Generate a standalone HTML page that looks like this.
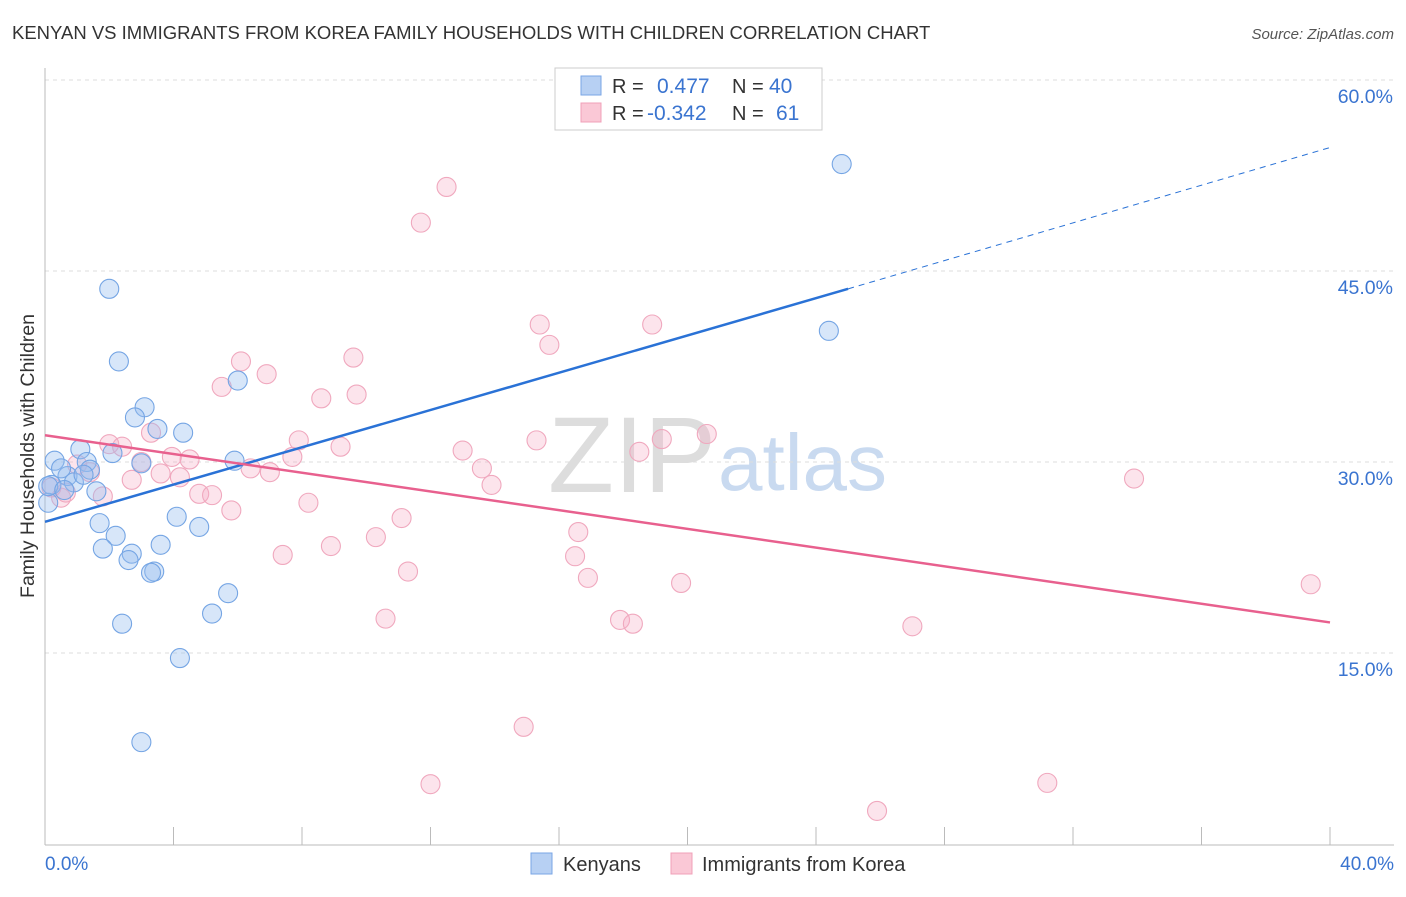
<!DOCTYPE html>
<html><head><meta charset="utf-8"><style>
body{margin:0;background:#fff;font-family:"Liberation Sans",sans-serif}
svg text{font-family:"Liberation Sans",sans-serif}
</style></head><body>
<svg id="chart" width="1406" height="892" xmlns="http://www.w3.org/2000/svg">
<text x="12" y="39" font-size="18.5" fill="#333">KENYAN VS IMMIGRANTS FROM KOREA FAMILY HOUSEHOLDS WITH CHILDREN CORRELATION CHART</text>
<text x="1394" y="39" font-size="15" fill="#555" text-anchor="end" font-style="italic">Source: ZipAtlas.com</text>
<text x="716" y="492" font-size="108" fill="#ddd" text-anchor="end" font-family="Liberation Serif">ZIP</text>
<text x="718" y="490" font-size="80" fill="#c9daf0">atlas</text>
<g id="grid"></g>
<line x1="45" y1="68" x2="45" y2="845" stroke="#bbb"/>
<line x1="45" y1="845" x2="1394" y2="845" stroke="#bbb"/>
<g id="ticks"></g>
<text x="34" y="456" font-size="19.5" fill="#333" text-anchor="middle" transform="rotate(-90 34 456)">Family Households with Children</text>
<text x="45" y="870" font-size="19" fill="#3a74d0">0.0%</text>
<text x="1394" y="870" font-size="19" fill="#3a74d0" text-anchor="end">40.0%</text>
<g id="pts"></g>
<g id="lines"></g>
<g>
<rect x="555" y="68" width="267" height="62" fill="#fff" stroke="#ccc"/>
<rect x="581" y="76" width="20" height="19" fill="#b7d0f3" stroke="#7aa6e6"/>
<rect x="581" y="103" width="20" height="19" fill="#fac8d6" stroke="#f0a0b8"/>
<text x="612" y="93" font-size="20" fill="#333">R =</text>
<text x="657" y="93" font-size="21" fill="#3a74d0">0.477</text>
<text x="732" y="93" font-size="20" fill="#333">N =</text>
<text x="769" y="93" font-size="21" fill="#3a74d0">40</text>
<text x="612" y="120" font-size="20" fill="#333">R =</text>
<text x="647" y="120" font-size="21" fill="#3a74d0">-0.342</text>
<text x="732" y="120" font-size="20" fill="#333">N =</text>
<text x="776" y="120" font-size="21" fill="#3a74d0">61</text>
</g>
<g>
<rect x="531" y="853" width="21" height="21" fill="#b7d0f3" stroke="#7aa6e6"/>
<text x="563" y="871" font-size="20" fill="#333">Kenyans</text>
<rect x="671" y="853" width="21" height="21" fill="#fac8d6" stroke="#f0a0b8"/>
<text x="702" y="871" font-size="20" fill="#333">Immigrants from Korea</text>
</g>
</svg>
<script>
const yTicks=[15,30,45,60];
const xTicks=[0,4,8,12,16,20,24,28,32,36,40];
const kenX=[24.8,24.4,2.0,2.3,6.0,3.1,2.8,3.5,4.3,1.1,2.1,0.3,1.3,5.9,3.0,1.4,0.7,0.9,1.6,0.2,0.1,1.7,4.1,4.8,2.2,3.6,1.8,2.7,2.6,3.4,3.3,5.7,5.2,2.4,4.2,3.0,0.5,0.1,0.6,1.2];
const kenY=[53.4,40.3,43.6,37.9,36.4,34.3,33.5,32.6,32.3,31.0,30.7,30.1,30.0,30.1,29.9,29.4,28.9,28.4,27.7,28.2,26.8,25.2,25.7,24.9,24.2,23.5,23.2,22.8,22.3,21.4,21.3,19.7,18.1,17.3,14.6,8.0,29.5,28.1,27.8,29.0];
const korX=[12.5,11.7,15.4,18.9,15.7,6.1,9.6,6.9,5.5,8.6,9.7,3.3,2.0,2.4,7.9,9.2,13.0,15.3,19.2,20.6,18.5,3.95,4.5,7.7,1.0,3.0,3.6,4.2,6.4,7.0,13.6,13.9,33.9,2.7,1.8,4.8,5.2,8.2,5.8,11.1,10.3,8.9,16.6,7.4,16.5,11.3,16.9,19.8,39.4,10.6,17.9,18.3,27.0,14.9,12.0,31.2,25.9,0.5,0.2,1.4,0.65];
const korY=[51.6,48.8,40.8,40.8,39.2,37.9,38.2,36.9,35.9,35.0,35.3,32.3,31.4,31.2,31.7,31.2,30.9,31.7,31.8,32.2,30.8,30.4,30.2,30.4,29.8,30.0,29.1,28.8,29.5,29.2,29.5,28.2,28.7,28.6,27.3,27.5,27.4,26.8,26.2,25.6,24.1,23.4,24.5,22.7,22.6,21.4,20.9,20.5,20.4,17.7,17.6,17.3,17.1,9.2,4.7,4.8,2.6,27.2,28.0,29.2,27.6];
const kenLine=[[0,25.3],[25,43.6],[40,54.7]];
const korLine=[[0,32.1],[40,17.4]];
const NS='http://www.w3.org/2000/svg';
const sx=v=>45+v*32.125, sy=v=>844-v*12.733;
function mk(t,a,p){const e=document.createElementNS(NS,t);for(const k in a)e.setAttribute(k,a[k]);p.appendChild(e);return e;}
const grid=document.getElementById('grid'),ticks=document.getElementById('ticks'),pts=document.getElementById('pts'),lines=document.getElementById('lines');
yTicks.forEach(v=>{
const l=mk('line',{x1:45,x2:1394,y1:sy(v),y2:sy(v),stroke:'#ddd','stroke-dasharray':'4 4'},grid);


const t=mk('text',{x:1393,y:sy(v)+23,'font-size':19.5,fill:'#3a74d0','text-anchor':'end'},ticks);
t.textContent=v.toFixed(1)+'%';


});
xTicks.forEach(v=>{
const l=mk('line',{x1:sx(v),x2:sx(v),y1:827,y2:845,stroke:'#bbb'},ticks);


});
korX.forEach((x,i)=>{
const c=mk('circle',{cx:sx(x),cy:sy(korY[i]),r:9.5,fill:'rgba(246,170,195,0.32)',stroke:'#f0a8be','stroke-width':1.1},pts);


});
kenX.forEach((x,i)=>{
const c=mk('circle',{cx:sx(x),cy:sy(kenY[i]),r:9.5,fill:'rgba(150,190,240,0.38)',stroke:'#75a5e4','stroke-width':1.1},pts);


});
let l1=mk('line',{x1:sx(kenLine[0][0]),y1:sy(kenLine[0][1]),x2:sx(kenLine[1][0]),y2:sy(kenLine[1][1]),stroke:'#2a72d6','stroke-width':2.5},lines);


let l2=mk('line',{x1:sx(kenLine[1][0]),y1:sy(kenLine[1][1]),x2:sx(kenLine[2][0]),y2:sy(kenLine[2][1]),stroke:'#2a72d6','stroke-width':1,'stroke-dasharray':'6 5'},lines);


let l3=mk('line',{x1:sx(korLine[0][0]),y1:sy(korLine[0][1]),x2:sx(korLine[1][0]),y2:sy(korLine[1][1]),stroke:'#e8608e','stroke-width':2.5},lines);


</script>
</body></html>
